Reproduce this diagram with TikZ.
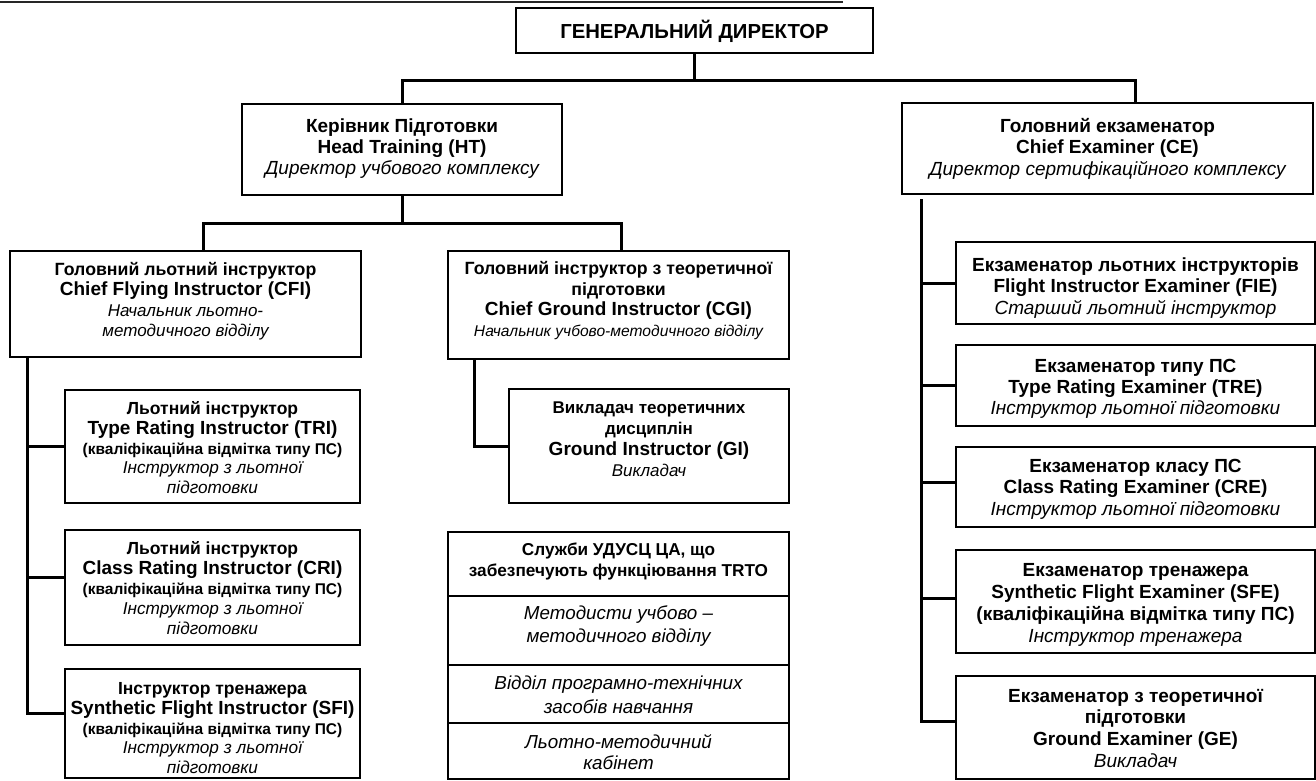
\documentclass[tikz,border=0pt]{standalone}
\usepackage{fontspec}
\setmainfont{Liberation Sans}
\usetikzlibrary{calc,fit}
\newcommand\mybf[1]{\edef\mytmpbs{\the\baselineskip}\fontsize{#1}{\mytmpbs}\selectfont\bfseries}
\newcommand\myit[1]{\edef\mytmpbs{\the\baselineskip}\fontsize{#1}{\mytmpbs}\selectfont\itshape}
\newcommand\lsp[1]{\fontsize{19}{#1}\selectfont\lineskiplimit=-30pt\relax}
\tikzset{
  box/.style={draw=black, line width=2.1pt, fill=white, rectangle, inner sep=0pt},
  rowbox/.style={draw=black, line width=1.6pt, rectangle, inner sep=0pt},
  txt/.style={align=center, inner sep=0pt, font=\lsp{21}},
  conn/.style={draw=black, line width=3pt, line join=miter},
  rule/.style={draw=black!85, line width=2.5pt}
}
% name, x, first-line centre y, first-line size, content
\newcommand\btext[6][]{%
  \pgfmathsetmacro\myny{#4+0.36*#5-20}%
  \node[txt,#1,anchor=north] (#2) at (#3,\myny) {\rule{0pt}{20pt}#6};%
}
\begin{document}
\begin{tikzpicture}[x=1pt,y=-1pt]
\fill[white] (0,0) rectangle (1316,780);
\useasboundingbox (0,0) rectangle (1316,780);

% top rule
\coordinate (rl) at (0,2);
\coordinate (rr) at (843,2);
\draw[rule] (rl) -- (rr);

% boxes
\node[box, fit={(516,8) (873,53)}] (gd) {};
\node[box, fit={(242,104) (562,195)}] (ht) {};
\node[box, fit={(902,103) (1313,194)}] (ce) {};
\node[box, fit={(10,251) (361,357)}] (cfi) {};
\node[box, fit={(448,251) (789,359)}] (cgi) {};
\node[box, fit={(65,390) (360,503)}] (tri) {};
\node[box, fit={(65,530) (360,645)}] (cri) {};
\node[box, fit={(65,669) (360,778)}] (sfi) {};
\node[box, fit={(509,389) (789,503)}] (gi) {};
\node[rowbox, fit={(448,596) (789,665)}] (r1) {};
\node[rowbox, fit={(448,665) (789,723)}] (r2) {};
\node[rowbox, fit={(448,723) (789,779)}] (r3) {};
\node[box, fit={(448,532) (789,596)}] (srv) {};
\node[box, fit={(956,242) (1315,324)}] (fie) {};
\node[box, fit={(956,345) (1315,426)}] (tre) {};
\node[box, fit={(956,447) (1315,527)}] (cre) {};
\node[box, fit={(956,550) (1315,653)}] (sfe) {};
\node[box, fit={(956,676) (1315,779)}] (ge) {};

% texts
\btext{gd-t}{694.5}{31}{20.3}{{\mybf{20.3}ГЕНЕРАЛЬНИЙ ДИРЕКТОР}}
\btext{ht-t}{402}{125}{19}{{\mybf{19}Керівник Підготовки}\\{\mybf{19}Head Training (HT)}\\{\myit{19}Директор учбового комплексу}}
\btext[font=\lsp{21.5}]{ce-t}{1107.5}{125}{19}{{\mybf{19}Головний екзаменатор}\\{\mybf{19}Chief Examiner (CE)}\\{\myit{19}Директор сертифікаційного комплексу}}
\btext[font=\lsp{20.4}]{cfi-t}{185.5}{269}{17.7}{{\mybf{17.7}Головний льотний інструктор}\\{\mybf{19}Chief Flying Instructor (CFI)}\\{\myit{17}Начальник льотно-}\\{\myit{17}методичного відділу}}
\btext[font=\lsp{20.7}]{cgi-t}{618.5}{268}{17.7}{{\mybf{17.7}Головний інструктор з теоретичної}\\{\mybf{17.7}підготовки}\\{\mybf{19}Chief Ground Instructor (CGI)}\\{\myit{15.6}Начальник учбово-методичного відділу}}
\btext[font=\lsp{19.8}]{tri-t}{212.5}{408}{17.5}{{\mybf{17.5}Льотний інструктор}\\{\mybf{19}Type Rating Instructor (TRI)}\\{\mybf{15.5}(кваліфікаційна відмітка типу ПС)}\\{\myit{17.2}Інструктор з льотної}\\{\myit{17.2}підготовки}}
\btext[font=\lsp{20}]{cri-t}{212.5}{548}{17.5}{{\mybf{17.5}Льотний інструктор}\\{\mybf{19}Class Rating Instructor (CRI)}\\{\mybf{15.5}(кваліфікаційна відмітка типу ПС)}\\{\myit{17.2}Інструктор з льотної}\\{\myit{17.2}підготовки}}
\btext[font=\lsp{19.8}]{sfi-t}{212.5}{688}{17.5}{{\mybf{17.5}Інструктор тренажера}\\{\mybf{19}Synthetic Flight Instructor (SFI)}\\{\mybf{15.5}(кваліфікаційна відмітка типу ПС)}\\{\myit{17.2}Інструктор з льотної}\\{\myit{17.2}підготовки}}
\btext{gi-t}{649}{407}{17}{{\mybf{17}Викладач теоретичних}\\{\mybf{17}дисциплін}\\{\mybf{19}Ground Instructor (GI)}\\{\myit{17}Викладач}}
\btext{srv-t}{618.5}{549}{17.2}{{\mybf{17.2}Служби УДУСЦ ЦА, що}\\{\mybf{17.2}забезпечують функціювання TRTO}}
\btext[font=\lsp{23}]{r1-t}{618.5}{613}{18.8}{{\myit{18.8}Методисти учбово –}\\{\myit{18.8}методичного відділу}}
\btext[font=\lsp{24}]{r2-t}{618.5}{683}{18.8}{{\myit{18.8}Відділ програмно-технічних}\\{\myit{18.8}засобів навчання}}
\btext[font=\lsp{21}]{r3-t}{618.5}{742}{18.8}{{\myit{18.8}Льотно-методичний}\\{\myit{18.8}кабінет}}
\btext[font=\lsp{21.5}]{fie-t}{1135.5}{264}{19}{{\mybf{19}Екзаменатор льотних інструкторів}\\{\mybf{19}Flight Instructor Examiner (FIE)}\\{\myit{19}Старший льотний інструктор}}
\btext{tre-t}{1135.5}{365}{19}{{\mybf{19}Екзаменатор типу ПС}\\{\mybf{19}Type Rating Examiner (TRE)}\\{\myit{19}Інструктор льотної підготовки}}
\btext[font=\lsp{21.5}]{cre-t}{1135.5}{465}{19}{{\mybf{19}Екзаменатор класу ПС}\\{\mybf{19}Class Rating Examiner (CRE)}\\{\myit{19}Інструктор льотної підготовки}}
\btext[font=\lsp{22}]{sfe-t}{1135.5}{569}{19}{{\mybf{19}Екзаменатор тренажера}\\{\mybf{19}Synthetic Flight Examiner (SFE)}\\{\mybf{19}(кваліфікаційна відмітка типу ПС)}\\{\myit{19}Інструктор тренажера}}
\btext[font=\lsp{21.7}]{ge-t}{1135.5}{695}{19}{{\mybf{19}Екзаменатор з теоретичної}\\{\mybf{19}підготовки}\\{\mybf{19}Ground Examiner (GE)}\\{\myit{19}Викладач}}

% connectors
\coordinate (hb1) at (0,80);
\coordinate (cedrop) at (1135,0);
\draw[conn] (gd.south) -- (gd.south |- hb1);
\draw[conn] (ht.north) -- (ht.north |- hb1) -- (cedrop |- hb1) -- (cedrop |- ce.north);

\coordinate (hb2) at (0,223);
\coordinate (cfidrop) at (203,0);
\coordinate (cgidrop) at (621,0);
\draw[conn] (ht.south) -- (ht.south |- hb2);
\draw[conn] (cfidrop |- cfi.north) -- (cfidrop |- hb2) -- (cgidrop |- hb2) -- (cgidrop |- cgi.north);

\coordinate (ltr) at (27,0);
\coordinate (cri-b) at ([yshift=10.5pt]cri.west);
\coordinate (sfi-b) at ([yshift=10.5pt]sfi.west);
\draw[conn] (ltr |- cfi.south) |- (sfi-b);
\draw[conn] (ltr |- tri.west) -- (tri.west);
\draw[conn] (ltr |- cri-b) -- (cri-b);

\coordinate (mtr) at (474,0);
\draw[conn] (mtr |- cgi.south) |- (gi.west);

\coordinate (rtr) at (921,0);
\coordinate (cre-b) at ([yshift=5pt]cre.west);
\coordinate (sfe-b) at ([yshift=3.5pt]sfe.west);
\coordinate (ge-b) at ([yshift=6.5pt]ge.west);
\draw[conn] ([yshift=-4pt]ce.south -| rtr) |- (ge-b);
\draw[conn] (rtr |- fie.west) -- (fie.west);
\draw[conn] (rtr |- tre.west) -- (tre.west);
\draw[conn] (rtr |- cre-b) -- (cre-b);
\draw[conn] (rtr |- sfe-b) -- (sfe-b);
\end{tikzpicture}
\end{document}
